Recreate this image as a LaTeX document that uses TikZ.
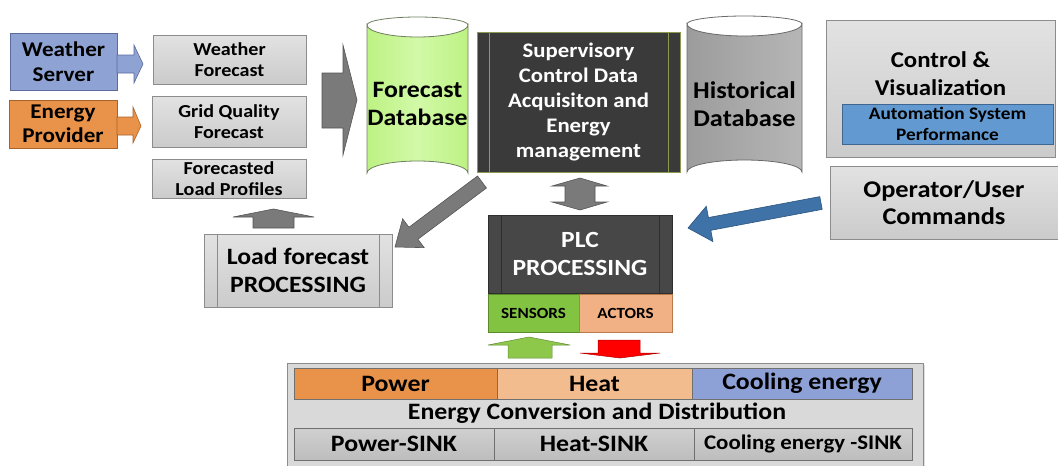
\documentclass[tikz,border=0pt]{standalone}
\usepackage{fontspec}
\setmainfont{Carlito}[FakeStretch=1.1]
\usetikzlibrary{calc,shadows}
\definecolor{wsblue}{HTML}{8FA2D4}
\definecolor{wsbord}{HTML}{5A6B9C}
\definecolor{eporange}{HTML}{E8924A}
\definecolor{epbord}{HTML}{A8622A}
\definecolor{lgray}{HTML}{D6D6D6}
\definecolor{lgtop}{HTML}{E2E2E2}
\definecolor{lgbot}{HTML}{CBCBCB}
\definecolor{gbord}{HTML}{8C8C8C}
\definecolor{agray}{HTML}{7A7A7A}
\definecolor{abord}{HTML}{555555}
\definecolor{fdbl}{HTML}{BDF283}
\definecolor{fdbm}{HTML}{D2F9A8}
\definecolor{fdbbord}{HTML}{6F7F5F}
\definecolor{scfill}{HTML}{3A3A3A}
\definecolor{scbord}{HTML}{8A9A50}
\definecolor{hdbl}{HTML}{9C9C9C}
\definecolor{hdbr}{HTML}{B6B6B6}
\definecolor{hdbbord}{HTML}{6A6A6A}
\definecolor{aspblue}{HTML}{6199D0}
\definecolor{aspbord}{HTML}{3F6690}
\definecolor{opblue}{HTML}{3F72A6}
\definecolor{opbord}{HTML}{2C5580}
\definecolor{plcfill}{HTML}{474747}
\definecolor{plcbord}{HTML}{2E2E2E}
\definecolor{sensgreen}{HTML}{82C341}
\definecolor{sensbord}{HTML}{5A8A2A}
\definecolor{actfill}{HTML}{F2B184}
\definecolor{actbord}{HTML}{B87A4A}
\definecolor{upgreen}{HTML}{8DC84B}
\definecolor{heatfill}{HTML}{F3BC8F}
\definecolor{coolfill}{HTML}{8EA1D6}
\definecolor{sinktop}{HTML}{D0D0D0}
\definecolor{sinkbot}{HTML}{BDBDBD}
\definecolor{outergray}{HTML}{D9D9D9}
\tikzset{
  box/.style={draw, line width=0.8pt, inner sep=0pt, align=center, font=\bfseries,
    drop shadow={shadow xshift=1.2pt, shadow yshift=-1.2pt, opacity=0.25}},
  graybox/.style={box, top color=lgtop, bottom color=lgbot, draw=gbord},
  flatbox/.style={draw, line width=0.8pt, inner sep=0pt, align=center, draw=gbord!80!black},
  garrow/.style={fill=agray, draw=abord, line width=0.6pt, line join=miter},
  sz/.style n args={2}{font=\fontsize{#1}{#2}\selectfont\bfseries},
}
\newcommand{\blockarrow}[6]{%
  \path #2 coordinate (ba-t) #3 coordinate (ba-p);
  \path ($(ba-p)!#6!(ba-t)$) coordinate (ba-b);
  \filldraw[#1] ($(ba-t)!#4!90:(ba-p)$) -- ($(ba-b)!#4!-90:(ba-t)$) -- ($(ba-b)!#5!-90:(ba-t)$) -- (ba-p)
    -- ($(ba-b)!#5!90:(ba-t)$) -- ($(ba-b)!#4!90:(ba-t)$) -- ($(ba-t)!#4!-90:(ba-p)$) -- cycle;
}
\begin{document}
\begin{tikzpicture}[x=1pt,y=-1pt]
\useasboundingbox (0,0) rectangle (1058,466);
% left sources
\node[box, fill=wsblue, draw=wsbord, minimum width=107pt, minimum height=57pt, sz={21}{24.5}] (ws) at (63.5,61.5) {Weather\\Server};
\node[box, fill=eporange, draw=epbord, minimum width=108pt, minimum height=48pt, sz={21}{24}] (ep) at (63,124) {Energy\\Provider};
\filldraw[fill=wsblue, draw=wsbord, line width=0.6pt] (117,55)--(134,55)--(134,45)--(143,64)--(134,83)--(134,73)--(117,73)--cycle;
\filldraw[fill=eporange, draw=epbord, line width=0.6pt] (117,117)--(133,117)--(133,107)--(141,126)--(133,143)--(133,135)--(117,135)--cycle;
% forecasts
\node[graybox, minimum width=153pt, minimum height=49pt, sz={18.3}{21.5}] (wf) at (229.5,59.5) {Weather\\Forecast};
\node[graybox, minimum width=154pt, minimum height=51pt, sz={18.3}{21.5}] (gq) at (229,121.5) {Grid Quality\\Forecast};
\node[graybox, minimum width=154pt, minimum height=39pt, sz={18.3}{20.5}] (flp) at (229,178.5) {Forecasted\\Load Profiles};
% big right arrow
\filldraw[garrow] (322,73)--(343,73)--(343,45)--(357,100)--(343,155)--(343,128)--(322,128)--cycle;
% forecast database
\shadedraw[left color=fdbl, right color=fdbl, middle color=fdbm, draw=fdbbord, line width=0.8pt] (367,25) -- (367,173) arc[start angle=180, end angle=360, x radius=50.5, y radius=12] -- (468,25) arc[start angle=0, end angle=180, x radius=50.5, y radius=12] -- cycle;
\draw[draw=fdbbord, line width=0.8pt] (367,25) arc[start angle=180, end angle=360, x radius=50.5, y radius=8];
\node[sz={23.5}{27.5}, align=center] (fdbt) at (417.5,104) {Forecast\\Database};
% SCADA
\node[box, fill=scfill, draw=scbord, text=white, minimum width=203pt, minimum height=140pt, sz={20.7}{25}] (scada) at (578.5,102) {Supervisory\\Control Data\\Acquisiton and\\Energy\\management};
\draw[scbord, line width=0.8pt] (489,32) -- (489,172) (668,32) -- (668,172);
% historical database
\shadedraw[left color=hdbl, right color=hdbr, draw=hdbbord, line width=0.8pt] (687,24) -- (687,172) arc[start angle=180, end angle=360, x radius=57.5, y radius=12] -- (802,24) arc[start angle=0, end angle=180, x radius=57.5, y radius=12] -- cycle;
\draw[draw=hdbbord, line width=0.8pt] (687,24) arc[start angle=180, end angle=360, x radius=57.5, y radius=8];
\node[sz={24}{28}, align=center] (hdbt) at (744.5,104) {Historical\\Database};
% control & visualization
\node[graybox, minimum width=229pt, minimum height=137pt] (cv) at (940.5,88.5) {};
\node[sz={22.6}{28}, align=center] (cvt) at (940.5,74) {Control \&\\Visualization};
\node[flatbox, fill=aspblue, draw=aspbord, minimum width=211pt, minimum height=40pt, sz={17.5}{20.5}] (asp) at (947.5,124) {Automation System\\Performance};
% operator
\node[graybox, minimum width=228pt, minimum height=73pt, sz={24}{27.5}] (op) at (944,202.5) {Operator/User\\Commands};
% blue arrow
\blockarrow{fill=opblue, draw=opbord, line width=0.6pt}{(821,203)}{(688,228)}{6.5pt}{18pt}{22pt}
% diagonal gray arrow
\blockarrow{garrow}{(482,182)}{(395,247)}{7.5pt}{18pt}{23pt}
% load forecast processing
\node[graybox, minimum width=188pt, minimum height=73pt, sz={23.4}{27.5}] (lfp) at (298,270.5) {Load forecast\\PROCESSING};
\draw[gbord, line width=0.8pt] (217,234) -- (217,307) (379,234) -- (379,307);
% up arrow to forecasted load profiles
\filldraw[garrow] (253,228)--(253,217)--(233,217)--(273.5,209)--(314,217)--(294,217)--(294,228)--cycle;
% double arrow
\filldraw[garrow] (580,178)--(607,186)--(595,186)--(595,202)--(607,202)--(580,210)--(552,202)--(565,202)--(565,186)--(552,186)--cycle;
% PLC
\node[box, fill=plcfill, draw=plcbord, text=white, minimum width=184pt, minimum height=78pt, sz={23.2}{28}] (plc) at (580,254) {PLC\\PROCESSING};
\draw[plcbord, line width=0.8pt] (501,215) -- (501,293) (659,215) -- (659,293);
\node[box, fill=sensgreen, draw=sensbord, minimum width=91pt, minimum height=38pt, sz={15.5}{17}] (sens) at (533.5,313) {SENSORS};
\node[box, fill=actfill, draw=actbord, minimum width=93pt, minimum height=38pt, sz={15.5}{17}] (act) at (625.5,313) {ACTORS};
% green and red arrows
\filldraw[fill=upgreen, draw=upgreen!70!black, line width=0.5pt] (508,358)--(508,345)--(488,345)--(529,337)--(570,345)--(552,345)--(552,358)--cycle;
\filldraw[fill=red, draw=red!70!black, line width=0.5pt] (598,340)--(640,340)--(640,353)--(660,353)--(620,358)--(580,353)--(598,353)--cycle;
% energy conversion
\node[box, fill=outergray, draw=gbord, minimum width=636pt, minimum height=110pt, anchor=north west] (ecd) at (287,363) {};
\node[flatbox, fill=eporange, minimum width=203pt, minimum height=31pt, sz={23.5}{25}] (pow) at (395.5,383.5) {Power};
\node[flatbox, fill=heatfill, minimum width=195pt, minimum height=31pt, sz={23.5}{25}] (heat) at (594.5,383.5) {Heat};
\node[flatbox, fill=coolfill, minimum width=220pt, minimum height=31pt, sz={23.5}{25}] (cool) at (802,383.5) {Cooling energy};
\node[sz={23.5}{25}] (ecdt) at (597,413) {Energy Conversion and Distribution};
\node[flatbox, top color=sinktop, bottom color=sinkbot, minimum width=200pt, minimum height=32pt, sz={23.5}{25}] (psink) at (394,444) {Power-SINK};
\node[flatbox, top color=sinktop, bottom color=sinkbot, minimum width=200pt, minimum height=32pt, sz={23.5}{25}] (hsink) at (594,444) {Heat-SINK};
\node[flatbox, top color=sinktop, bottom color=sinkbot, minimum width=218pt, minimum height=32pt, sz={20.8}{23}] (csink) at (803,444) {Cooling energy -SINK};
\end{tikzpicture}
\end{document}
